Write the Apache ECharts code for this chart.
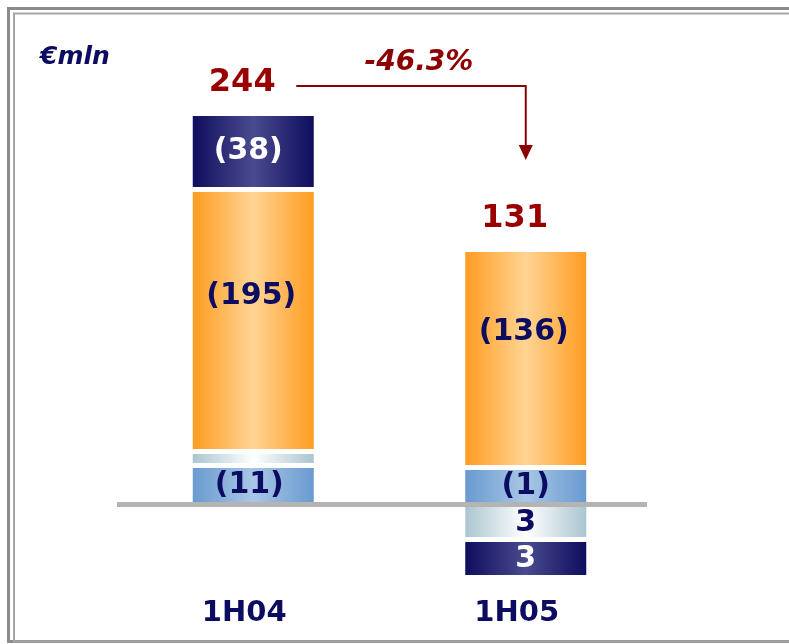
<!DOCTYPE html>
<html>
<head>
<meta charset="utf-8">
<script src="https://cdn.jsdelivr.net/npm/echarts@6/dist/echarts.min.js"></script>
<style>
html, body { margin: 0; padding: 0; background: #fff; }
#chart { width: 789px; height: 644px; }
</style>
</head>
<body>
<div id="chart"></div>
<script>
const categories = ['1H04', '1H05']
const totals = [244, 131]
const changeText = '-46.3%'
const unitText = '€mln'

// reported component values (costs negative, shown in brackets)
const blueValues = [-11, -1]
const paleValues = [null, 3]
const orangeValues = [-195, -136]
const navyValues = [-38, 3]

// segment heights as drawn on the slide (the slide is not to scale)
const blueHeights = [39, 37]
const paleHeights = [14, -35]
const orangeHeights = [262, 218]
const navyHeights = [76, -38]

const FONT = 'DejaVu Sans'
const NAVY_TEXT = '#0c0c60'
const RED = '#990000'

const fmt = (v) => (v == null ? '' : v < 0 ? `(${-v})` : `${v}`)

const grad = (edge, mid) =>
  new echarts.graphic.LinearGradient(0, 0, 1, 0, [
    { offset: 0, color: edge },
    { offset: 0.5, color: mid },
    { offset: 1, color: edge },
  ])

// offsets: label nudge per category, as on the slide
const segment = (name, heights, values, edge, mid, textColor, offsets) => ({
  name,
  type: 'bar',
  stack: 'total',
  barWidth: 126,
  data: heights.map((h, i) => ({ value: h, label: { offset: offsets[i] } })),
  itemStyle: { color: grad(edge, mid), borderColor: '#fff', borderWidth: 2.5 },
  label: {
    show: true,
    position: 'inside',
    formatter: (p) => fmt(values[p.dataIndex]),
    color: textColor,
    fontFamily: FONT,
    fontWeight: 'bold',
    fontSize: 30,
  },
  emphasis: { disabled: true },
})

// top of the positive stack, where the totals sit
const stackTops = categories.map((c, i) =>
  [blueHeights, paleHeights, orangeHeights, navyHeights]
    .map((s) => s[i])
    .filter((h) => h > 0)
    .reduce((a, b) => a + b, 0)
)

const chart = echarts.init(document.getElementById('chart'))
chart.setOption({
  animation: false,
  title: {
    text: unitText,
    left: 35,
    top: 40,
    textStyle: { fontSize: 25, fontStyle: 'italic', fontWeight: 'bold', color: NAVY_TEXT, fontFamily: FONT },
  },
  grid: { left: 117, right: 127, top: 84.5, bottom: 59.5 },
  xAxis: {
    type: 'category',
    data: categories,
    axisLine: { show: false, onZero: false },
    axisTick: { show: false },
    axisLabel: {
      color: NAVY_TEXT,
      fontFamily: FONT,
      fontWeight: 'bold',
      fontSize: 29,
      lineHeight: 30,
      margin: 14,
      padding: [0, 18, 0, 0],
    },
  },
  yAxis: {
    type: 'value',
    min: -80,
    max: 420,
    show: false,
  },
  series: [
    segment('blue', blueHeights, blueValues, '#6699cf', '#a9c6e6', NAVY_TEXT, [[-4, 0], [0, 0]]),
    segment('pale', paleHeights, paleValues, '#a7c3ce', '#ffffff', NAVY_TEXT, [[0, 0], [0, 1]]),
    segment('orange', orangeHeights, orangeValues, '#ff9a1c', '#ffd494', NAVY_TEXT, [[-2, -24], [-2, -26]]),
    segment('navy', navyHeights, navyValues, '#0d0b5c', '#4a4a8e', '#ffffff', [[-5, 0], [0, 1]]),
    {
      name: 'total',
      type: 'scatter',
      data: stackTops,
      symbolSize: 1,
      itemStyle: { color: 'rgba(0,0,0,0)', opacity: 1 },
      z: 5,
      label: {
        show: true,
        position: 'top',
        distance: 14,
        offset: [-11, 0],
        formatter: (p) => `${totals[p.dataIndex]}`,
        color: RED,
        opacity: 1,
        fontFamily: FONT,
        fontWeight: 'bold',
        fontSize: 32,
      },
      emphasis: { disabled: true },
    },
  ],
})

// annotation: baseline, change arrow and frame
const p0 = chart.convertToPixel({ gridIndex: 0 }, [0, stackTops[0]])
const p1 = chart.convertToPixel({ gridIndex: 0 }, [1, stackTops[1]])
const zeroY = chart.convertToPixel({ gridIndex: 0 }, [0, 0])[1]
const lineY = p0[1] - 27.5
const tipY = p1[1] - 89.5
const arrowX = p1[0]

chart.setOption({
  graphic: [
    { type: 'rect', z: 100, shape: { x: 8.5, y: 8.5, width: 900, height: 633 }, style: { fill: 'none', stroke: '#8c8c8c', lineWidth: 3 } },
    { type: 'rect', z: 100, shape: { x: 14, y: 13.5, width: 900, height: 628 }, style: { fill: 'none', stroke: '#a6a6a6', lineWidth: 2 } },
    { type: 'rect', z: 100, shape: { x: 117, y: zeroY - 2.5, width: 530, height: 5 }, style: { fill: '#b4b4b4' } },
    {
      type: 'polyline',
      z: 100,
      shape: { points: [[p0[0] + 43, lineY], [arrowX, lineY], [arrowX, tipY - 14]] },
      style: { stroke: '#8b0000', lineWidth: 2, fill: 'none' },
    },
    {
      type: 'polygon',
      z: 100,
      shape: { points: [[arrowX - 7, tipY - 15], [arrowX + 7, tipY - 15], [arrowX, tipY]] },
      style: { fill: '#8b0000' },
    },
    {
      type: 'text',
      z: 100,
      x: (p0[0] + 43 + arrowX) / 2 + 8,
      y: lineY - 23,
      style: {
        text: changeText,
        font: `italic bold 28px "${FONT}"`,
        fill: '#8b0000',
        align: 'center',
        verticalAlign: 'middle',
        textAlign: 'center',
        textVerticalAlign: 'middle',
      },
    },
  ],
})
</script>
</body>
</html>
